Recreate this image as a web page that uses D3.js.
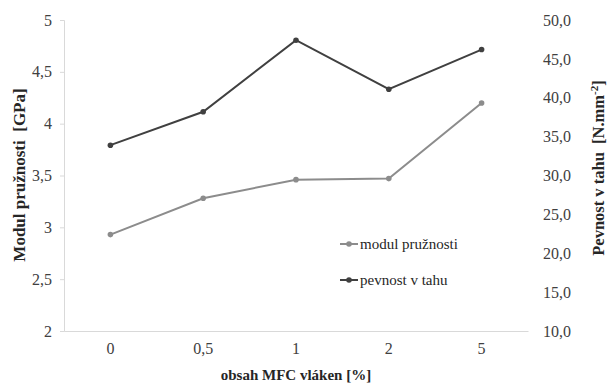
<!DOCTYPE html>
<html>
<head>
<meta charset="utf-8">
<script src="https://cdn.jsdelivr.net/npm/d3@7"></script>
</head>
<body style="margin:0; background:#fff">
<svg id="chart"></svg>
<script>
// data
const categories = ["0", "0,5", "1", "2", "5"];
const modul = [2.93, 3.28, 3.46, 3.47, 4.2];
const pevnost = [33.9, 38.2, 47.4, 41.1, 46.2];
const leftTicks = [2, 2.5, 3, 3.5, 4, 4.5, 5];
const rightTicks = [10, 15, 20, 25, 30, 35, 40, 45, 50];

const width = 611, height = 383;
const margin = { top: 20, right: 83, bottom: 52, left: 64 };
const FONT = '"Liberation Serif"';

const svg = d3.select("#chart").attr("width", width).attr("height", height);

const x = d3.scaleBand()
  .domain(categories)
  .range([margin.left, width - margin.right]);

const yL = d3.scaleLinear().domain([2, 5]).range([height - margin.bottom, margin.top]);
const yR = d3.scaleLinear().domain([10, 50]).range([height - margin.bottom, margin.top]);

const comma = (d) => String(d).replace(".", ",");

// left axis
const leftAxis = svg.append("g")
  .attr("transform", `translate(${margin.left},0)`)
  .call(d3.axisLeft(yL).tickValues(leftTicks).tickFormat(comma).tickSize(4).tickPadding(8));
leftAxis.select(".domain").attr("stroke", "#d9d9d9");
leftAxis.selectAll(".tick line").attr("stroke", "#d9d9d9");
leftAxis.selectAll("text").attr("font-size", 16).attr("fill", "#404040");

// right axis (labels only)
const rightAxis = svg.append("g")
  .attr("transform", `translate(${width - margin.right},0)`)
  .call(d3.axisRight(yR).tickValues(rightTicks).tickFormat((d) => d.toFixed(1).replace(".", ",")).tickSize(0).tickPadding(15));
rightAxis.select(".domain").remove();
rightAxis.selectAll("text").attr("font-size", 16).attr("fill", "#404040");

// bottom axis
const bottomAxis = svg.append("g")
  .attr("transform", `translate(0,${height - margin.bottom})`)
  .call(d3.axisBottom(x).tickSize(0).tickPadding(12));
bottomAxis.select(".domain").attr("stroke", "#d9d9d9");
bottomAxis.selectAll("text").attr("font-size", 16).attr("fill", "#404040");

// axis titles
svg.append("text")
  .attr("transform", "translate(19,175) rotate(-90)")
  .attr("text-anchor", "middle")
  .attr("dy", "0.35em")
  .attr("font-size", 17).attr("font-weight", "bold").attr("fill", "#262626")
  .style("white-space", "pre")
  .text("Modul pružnosti  [GPa]");

const rt = svg.append("text")
  .attr("transform", "translate(599,168) rotate(-90)")
  .attr("text-anchor", "middle")
  .attr("dy", "0.3em")
  .attr("font-size", 16.5).attr("font-weight", "bold").attr("fill", "#262626")
  .style("white-space", "pre");
rt.append("tspan").text("Pevnost v tahu  [N.mm");
rt.append("tspan").attr("dy", -6).attr("font-size", 11).text("-2");
rt.append("tspan").attr("dy", 6).text("]");

svg.append("text")
  .attr("x", (margin.left + width - margin.right) / 2)
  .attr("y", 380)
  .attr("text-anchor", "middle")
  .attr("font-size", 15).attr("font-weight", "bold").attr("fill", "#262626")
  .text("obsah MFC vláken [%]");

// series
const series = [
  { name: "modul pružnosti", values: modul, y: yL, color: "#8c8c8c" },
  { name: "pevnost v tahu", values: pevnost, y: yR, color: "#404040" }
];

const cx = (i) => x(categories[i]) + x.bandwidth() / 2;

series.forEach((s) => {
  const line = d3.line()
    .x((d, i) => cx(i))
    .y((d) => s.y(d));
  svg.append("path")
    .datum(s.values)
    .attr("fill", "none")
    .attr("stroke", s.color)
    .attr("stroke-width", 2)
    .attr("d", line);
  svg.append("g")
    .selectAll("circle")
    .data(s.values)
    .join("circle")
    .attr("cx", (d, i) => cx(i))
    .attr("cy", (d) => s.y(d))
    .attr("r", 2.8)
    .attr("fill", s.color);
});

// legend
const legend = svg.append("g").attr("transform", "translate(340,244)");
series.forEach((s, i) => {
  const g = legend.append("g").attr("transform", `translate(0,${i * 36})`);
  g.append("line").attr("x1", 0).attr("x2", 18).attr("stroke", s.color).attr("stroke-width", 2);
  g.append("circle").attr("cx", 9).attr("r", 2.8).attr("fill", s.color);
  g.append("text").attr("x", 20).attr("dy", "0.35em")
    .attr("font-size", 15).attr("fill", "#262626")
    .text(s.name);
});

// serif everywhere, set inline on each text
svg.selectAll("text").style("font-family", FONT);
</script>
</body>
</html>
